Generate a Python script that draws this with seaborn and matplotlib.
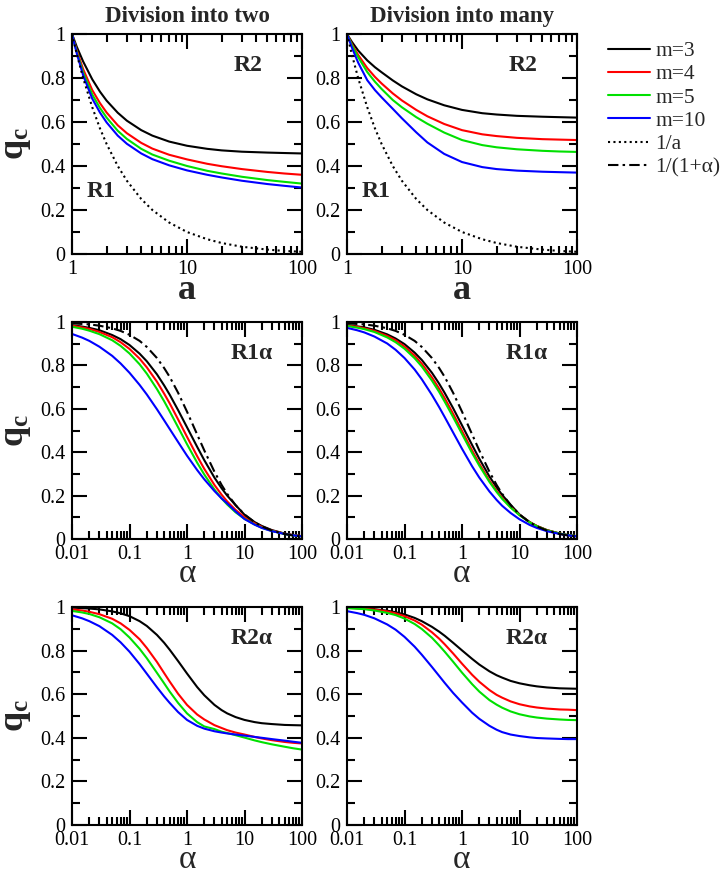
import matplotlib
matplotlib.use("Agg")
import matplotlib.pyplot as plt
import matplotlib.ticker as mticker
import seaborn as sns

sns.set_theme(style="ticks")
plt.rcParams['font.family'] = ['Liberation Serif', 'DejaVu Serif']
plt.rcParams['mathtext.fontset'] = 'custom'
plt.rcParams['mathtext.rm'] = 'Liberation Serif'
plt.rcParams['mathtext.it'] = 'Liberation Serif:italic'
plt.rcParams['mathtext.bf'] = 'Liberation Serif:bold'

# x grids (read positions)
a_vals = [1, 1.1, 1.25, 1.5, 1.75, 2, 2.5, 3, 4, 5, 7, 10, 15, 20, 30, 50, 70, 100]
alpha_vals = [0.01, 0.015, 0.02, 0.03, 0.05, 0.07, 0.1, 0.15, 0.2, 0.3, 0.4, 0.5, 0.7,
              1, 1.5, 2, 3, 4, 5, 7, 10, 15, 20, 30, 50, 70, 100]

# row 1: q_c against a
inv_a = [1.0, 0.909, 0.8, 0.667, 0.571, 0.5, 0.4, 0.333, 0.25, 0.2, 0.143, 0.1,
         0.067, 0.05, 0.033, 0.02, 0.014, 0.01]
two_a_m3 = [1.0, 0.942, 0.875, 0.794, 0.738, 0.697, 0.642, 0.606, 0.563, 0.538, 0.511,
            0.492, 0.478, 0.471, 0.465, 0.461, 0.459, 0.457]
two_a_m4 = [1.0, 0.925, 0.84, 0.745, 0.686, 0.643, 0.585, 0.549, 0.505, 0.479, 0.451,
            0.43, 0.41, 0.399, 0.386, 0.373, 0.366, 0.36]
two_a_m5 = [1.0, 0.918, 0.825, 0.725, 0.664, 0.62, 0.56, 0.523, 0.478, 0.452, 0.424,
            0.40, 0.378, 0.366, 0.351, 0.336, 0.328, 0.32]
two_a_m10 = [1.0, 0.912, 0.812, 0.706, 0.643, 0.598, 0.538, 0.501, 0.457, 0.431, 0.403,
             0.38, 0.36, 0.348, 0.333, 0.318, 0.31, 0.302]
many_a_m3 = [1.0, 0.965, 0.925, 0.88, 0.849, 0.826, 0.789, 0.762, 0.726, 0.703, 0.676,
             0.655, 0.64, 0.634, 0.628, 0.624, 0.622, 0.62]
many_a_m4 = [1.0, 0.955, 0.905, 0.845, 0.805, 0.775, 0.73, 0.698, 0.655, 0.626, 0.591,
             0.563, 0.544, 0.536, 0.528, 0.522, 0.52, 0.518]
many_a_m5 = [1.0, 0.95, 0.895, 0.827, 0.783, 0.75, 0.70, 0.667, 0.622, 0.592, 0.552,
             0.518, 0.495, 0.485, 0.476, 0.469, 0.466, 0.464]
many_a_m10 = [1.0, 0.94, 0.87, 0.79, 0.745, 0.712, 0.66, 0.617, 0.553, 0.507, 0.455,
              0.418, 0.395, 0.386, 0.379, 0.374, 0.372, 0.37]

# row 2: R1 alpha
inv_1p_alpha = [0.994, 0.991, 0.989, 0.983, 0.971, 0.959, 0.941, 0.913, 0.885, 0.834,
                0.788, 0.747, 0.674, 0.587, 0.482, 0.408, 0.31, 0.249, 0.208, 0.156,
                0.113, 0.077, 0.058, 0.039, 0.023, 0.016, 0.011]
two_r1_m3 = [0.985, 0.979, 0.973, 0.962, 0.94, 0.921, 0.894, 0.854, 0.819, 0.759, 0.708,
             0.665, 0.594, 0.515, 0.425, 0.363, 0.283, 0.234, 0.20, 0.156, 0.112, 0.078,
             0.06, 0.041, 0.025, 0.018, 0.013]
two_r1_m4 = [0.983, 0.975, 0.968, 0.954, 0.93, 0.907, 0.876, 0.831, 0.791, 0.725, 0.670,
             0.625, 0.551, 0.471, 0.382, 0.323, 0.249, 0.204, 0.173, 0.134, 0.101, 0.072,
             0.056, 0.039, 0.024, 0.018, 0.013]
two_r1_m5 = [0.978, 0.969, 0.96, 0.944, 0.916, 0.89, 0.855, 0.805, 0.762, 0.691, 0.635,
             0.588, 0.515, 0.437, 0.352, 0.297, 0.228, 0.187, 0.159, 0.123, 0.093, 0.067,
             0.052, 0.037, 0.023, 0.017, 0.012]
two_r1_m10 = [0.945, 0.928, 0.913, 0.886, 0.844, 0.809, 0.766, 0.71, 0.666, 0.598, 0.547,
              0.507, 0.447, 0.384, 0.318, 0.275, 0.221, 0.187, 0.164, 0.127, 0.092, 0.066,
              0.051, 0.036, 0.023, 0.017, 0.012]
many_r1_m3 = [0.986, 0.98, 0.975, 0.964, 0.943, 0.924, 0.898, 0.859, 0.825, 0.766, 0.716,
              0.673, 0.603, 0.524, 0.433, 0.37, 0.288, 0.238, 0.203, 0.158, 0.113, 0.078,
              0.06, 0.041, 0.025, 0.018, 0.013]
many_r1_m4 = [0.984, 0.978, 0.971, 0.959, 0.936, 0.916, 0.887, 0.845, 0.808, 0.745, 0.693,
              0.649, 0.577, 0.498, 0.408, 0.347, 0.269, 0.222, 0.189, 0.147, 0.111, 0.078,
              0.06, 0.041, 0.025, 0.018, 0.013]
many_r1_m5 = [0.982, 0.974, 0.967, 0.954, 0.929, 0.907, 0.877, 0.833, 0.795, 0.730, 0.678,
              0.633, 0.562, 0.484, 0.396, 0.338, 0.263, 0.217, 0.185, 0.145, 0.110, 0.077,
              0.059, 0.04, 0.025, 0.018, 0.013]
many_r1_m10 = [0.973, 0.962, 0.952, 0.933, 0.901, 0.872, 0.834, 0.781, 0.736, 0.664, 0.608,
               0.562, 0.491, 0.416, 0.335, 0.283, 0.219, 0.18, 0.153, 0.12, 0.091, 0.065,
               0.051, 0.036, 0.023, 0.017, 0.012]

# row 3: R2 alpha
two_r2_m3 = [0.997, 0.995, 0.993, 0.989, 0.98, 0.971, 0.958, 0.935, 0.913, 0.872, 0.836,
             0.804, 0.752, 0.695, 0.633, 0.595, 0.551, 0.527, 0.512, 0.495, 0.482, 0.472,
             0.467, 0.463, 0.459, 0.458, 0.457]
two_r2_m4 = [0.989, 0.984, 0.978, 0.967, 0.946, 0.925, 0.895, 0.852, 0.812, 0.748, 0.697,
             0.658, 0.602, 0.551, 0.507, 0.484, 0.458, 0.445, 0.435, 0.424, 0.415, 0.404,
             0.397, 0.389, 0.381, 0.377, 0.374]
two_r2_m5 = [0.982, 0.975, 0.968, 0.953, 0.925, 0.898, 0.86, 0.808, 0.765, 0.698, 0.65,
             0.612, 0.56, 0.512, 0.472, 0.452, 0.44, 0.428, 0.422, 0.412, 0.401, 0.388,
             0.38, 0.37, 0.359, 0.352, 0.346]
two_r2_m10 = [0.962, 0.948, 0.935, 0.912, 0.872, 0.838, 0.795, 0.738, 0.694, 0.632, 0.59,
              0.56, 0.518, 0.482, 0.455, 0.442, 0.43, 0.424, 0.42, 0.415, 0.41, 0.404,
              0.40, 0.394, 0.387, 0.382, 0.377]
many_r2_m3 = [0.997, 0.995, 0.993, 0.99, 0.983, 0.976, 0.966, 0.95, 0.935, 0.909, 0.887,
              0.868, 0.836, 0.801, 0.762, 0.736, 0.705, 0.687, 0.676, 0.661, 0.65, 0.641,
              0.636, 0.631, 0.627, 0.626, 0.625]
many_r2_m4 = [0.996, 0.994, 0.992, 0.988, 0.98, 0.971, 0.958, 0.938, 0.919, 0.884, 0.855,
              0.829, 0.787, 0.74, 0.689, 0.657, 0.619, 0.597, 0.584, 0.567, 0.554, 0.544,
              0.539, 0.534, 0.53, 0.529, 0.527]
many_r2_m5 = [0.995, 0.992, 0.99, 0.984, 0.973, 0.963, 0.947, 0.922, 0.899, 0.859, 0.824,
              0.795, 0.749, 0.699, 0.646, 0.612, 0.573, 0.552, 0.538, 0.521, 0.508, 0.498,
              0.493, 0.488, 0.484, 0.482, 0.481]
many_r2_m10 = [0.981, 0.972, 0.964, 0.948, 0.92, 0.896, 0.863, 0.818, 0.781, 0.725, 0.684,
               0.652, 0.606, 0.562, 0.515, 0.487, 0.455, 0.437, 0.426, 0.415, 0.408, 0.402,
               0.399, 0.397, 0.395, 0.394, 0.394]

m_labels = ["m=3", "m=4", "m=5", "m=10"]
m_colors = ["black", "#ff0000", "#00e000", "#0000ff"]

fig = plt.figure(figsize=(7.28, 8.76), dpi=100)

W, H = 728, 876
def rect(left, top, w, h):
    return [left / W, 1 - (top + h) / H, w / W, h / H]

col_left = [72, 347]
row_top = [34, 322, 607]
row_h = [220, 217, 218]

def style_axis(ax, xlim, xticks):
    ax.set_xscale('log')
    ax.set_xlim(*xlim)
    ax.set_ylim(0, 1)
    ax.xaxis.set_major_locator(mticker.FixedLocator(xticks))
    ax.xaxis.set_minor_locator(mticker.LogLocator(base=10, subs=range(2, 10), numticks=20))
    ax.xaxis.set_major_formatter(mticker.FuncFormatter(lambda v, p: f"{v:g}"))
    ax.xaxis.set_minor_formatter(mticker.NullFormatter())
    ax.yaxis.set_major_locator(mticker.MultipleLocator(0.2))
    ax.yaxis.set_minor_locator(mticker.MultipleLocator(0.1))
    ax.yaxis.set_major_formatter(mticker.FuncFormatter(lambda v, p: f"{v:g}"))
    ax.tick_params(which='both', direction='in', top=True, right=True,
                   width=1.5, color='black', labelsize=14.5, labelcolor='black')
    ax.tick_params(axis='x', pad=4)
    ax.tick_params(axis='y', pad=5)
    ax.tick_params(which='major', length=11)
    ax.tick_params(which='minor', length=5.5)
    for s in ax.spines.values():
        s.set_linewidth(1.5)
        s.set_color('black')
    ax.set_xlabel("")
    ax.set_ylabel("")

panels = [
    (0, 0, a_vals, [two_a_m3, two_a_m4, two_a_m5, two_a_m10], inv_a, None, "R2", "R1"),
    (0, 1, a_vals, [many_a_m3, many_a_m4, many_a_m5, many_a_m10], inv_a, None, "R2", "R1"),
    (1, 0, alpha_vals, [two_r1_m3, two_r1_m4, two_r1_m5, two_r1_m10], None, inv_1p_alpha, "R1α", None),
    (1, 1, alpha_vals, [many_r1_m3, many_r1_m4, many_r1_m5, many_r1_m10], None, inv_1p_alpha, "R1α", None),
    (2, 0, alpha_vals, [two_r2_m3, two_r2_m4, two_r2_m5, two_r2_m10], None, None, "R2α", None),
    (2, 1, alpha_vals, [many_r2_m3, many_r2_m4, many_r2_m5, many_r2_m10], None, None, "R2α", None),
]

handles = {}
for row, col, xs, curves, dotted, dashdot, label_hi, label_lo in panels:
    ax = fig.add_axes(rect(col_left[col], row_top[row], 230, row_h[row]))
    for ys, lab, c in zip(curves, m_labels, m_colors):
        sns.lineplot(x=xs, y=ys, ax=ax, color=c, linewidth=1.5, label=lab)
    if dotted is not None:
        sns.lineplot(x=xs, y=dotted, ax=ax, color='black', linewidth=1.5,
                     linestyle=(0, (1, 1.6)), label="1/a")
    if dashdot is not None:
        sns.lineplot(x=xs, y=dashdot, ax=ax, color='black', linewidth=1.5,
                     linestyle=(0, (5, 2, 1.2, 2)), label="1/(1+α)")
    h, l = ax.get_legend_handles_labels()
    for hh, ll in zip(h, l):
        handles.setdefault(ll, hh)
    if ax.get_legend() is not None:
        ax.get_legend().remove()

    if row == 0:
        style_axis(ax, (1, 100), [1, 10, 100])
        ax.set_xlabel("a", fontsize=26, fontweight='bold', labelpad=-3)
        ax.text(34, 0.855, label_hi, fontsize=17, fontweight='bold', ha='center', va='center')
        ax.text(1.8, 0.285, label_lo, fontsize=17, fontweight='bold', ha='center', va='center')
        ax.set_title(["Division into two", "Division into many"][col],
                     fontsize=16.5, fontweight='bold', pad=9)
    else:
        style_axis(ax, (0.01, 100), [0.01, 0.1, 1, 10, 100])
        ax.set_xlabel("α", fontsize=24, labelpad=-3.5)
        ax.text(13.5, 0.855, label_hi, fontsize=17, fontweight='bold', ha='center', va='center')
    if col == 0:
        ax.set_ylabel(r"$\mathbf{q_c}$", fontsize=26, labelpad=5)

order = ["m=3", "m=4", "m=5", "m=10", "1/a", "1/(1+α)"]
leg = fig.legend([handles[k] for k in order], order, loc='upper left',
                 bbox_to_anchor=(608 / W, 1 - 41 / H), frameon=False,
                 fontsize=15.5, borderpad=0, borderaxespad=0,
                 handlelength=1.95, handletextpad=0.25, labelspacing=0.15)

fig.savefig("out.png", dpi=100, facecolor='white')
